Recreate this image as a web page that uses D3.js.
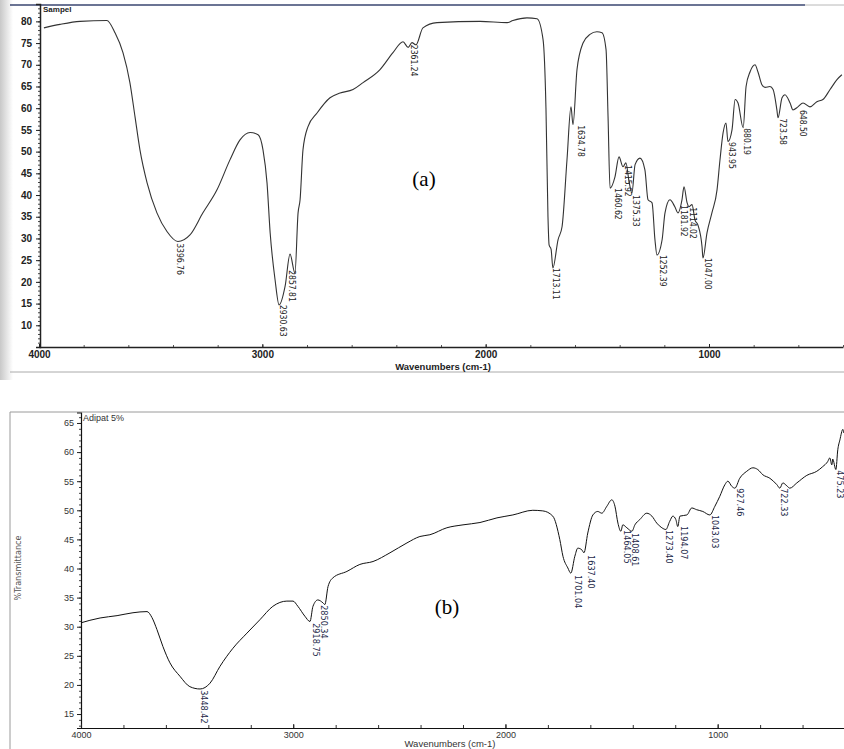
<!DOCTYPE html>
<html><head><meta charset="utf-8">
<script src="https://cdn.jsdelivr.net/npm/d3@7/dist/d3.min.js"></script>
<style>
html,body{margin:0;padding:0;background:#fff;}
svg{display:block;}
</style></head>
<body>
<svg id="chart" width="844" height="749"></svg>
<script>
// ---------- Data: spectrum (a) "Sampel" ----------
const wnA = [3978,3906,3816,3696,3660,3624,3593,3570,3548,3516,3472,3427,3378,3324,3266,3203,3145,3100,3055,3019,2997,2979,2965,2943,2925,2898,2876,2854,2840,2831,2818,2796,2755,2697,2652,2594,2549,2473,2415,2370,2347,2330,2312,2281,2218,2025,1904,1878,1815,1770,1743,1730,1721,1716,1707,1699,1676,1658,1636,1618,1609,1591,1564,1533,1502,1479,1461,1452,1443,1421,1403,1385,1372,1358,1345,1331,1309,1287,1273,1255,1242,1233,1210,1197,1175,1153,1139,1121,1112,1098,1090,1076,1063,1049,1031,1027,1009,987,964,951,937,924,915,897,883,870,847,834,816,794,781,763,749,727,713,696,691,673,660,637,624,602,579,548,517,490,458,427,405];
const tA  = [78.5,79.3,80.0,80.2,77.4,72.8,65.9,58.0,50.4,42.8,35.9,31.6,29.3,30.8,35.9,41.2,48.1,52.7,54.4,53.9,50.4,42.8,31.3,20.5,14.7,19.0,26.4,22.0,35.9,38.9,50.4,55.7,58.9,62.4,63.5,64.3,65.9,68.9,72.8,75.3,74.0,75.1,74.6,78.5,79.7,80.0,79.7,80.2,80.8,80.6,75.8,60.0,35.0,28.5,27.5,23.2,29.7,32.7,48.0,60.3,56.2,68.9,75.0,77.0,77.6,77.4,73.5,58.0,41.6,44.2,48.8,46.5,47.4,43.1,40.5,47.0,48.5,45.8,38.9,38.2,29.7,26.2,29.7,35.9,38.9,37.3,35.9,38.9,41.9,38.2,37.3,37.8,34.3,33.0,28.0,25.5,31.3,35.9,41.2,48.0,54.3,56.6,52.3,55.0,62.0,61.2,55.5,65.0,68.4,70.0,68.4,65.4,64.8,65.0,64.3,59.6,57.8,62.4,63.1,61.2,59.6,60.3,61.2,60.3,61.5,62.0,64.3,66.6,67.7];
const peakTextA = ["3396.76","2930.63","2857.81","2361.24","1713.11","1634.78","1460.62","1415.92","1375.33","1252.39","1181.92","1114.02","1047.00","943.95","880.19","723.58","648.50"];
const peakWnA   = [3369,2907,2867,2321,1685,1573,1407,1363,1327,1206,1112,1072,1006,897,830,669,579];
const peakTA    = [28.9,14.7,22.7,74.6,23.2,56.1,41.6,46.9,40.0,26.2,37.7,37.2,25.5,52.2,55.4,57.7,59.6];

// ---------- Data: spectrum (b) "Adipat 5%" ----------
const wnB = [3997,3958,3910,3830,3755,3689,3666,3642,3614,3581,3534,3487,3439,3392,3345,3284,3218,3157,3096,3030,3001,2978,2945,2921,2907,2884,2860,2851,2836,2813,2747,2686,2624,2544,2464,2403,2356,2276,2200,2120,2040,1965,1871,1824,1777,1744,1729,1706,1692,1673,1659,1640,1630,1612,1588,1565,1546,1522,1499,1484,1470,1456,1447,1428,1404,1390,1367,1334,1310,1287,1263,1244,1226,1211,1197,1188,1178,1145,1122,1099,1070,1037,1013,990,966,952,933,919,896,863,834,811,787,754,721,707,693,674,660,627,580,533,505,481,472,462,458,443,434,424,410,406];
const tB  = [30.7,31.1,31.5,31.9,32.4,32.6,31.6,29.5,26.6,23.8,21.5,19.7,19.3,20.3,23.2,26.3,28.9,31.2,33.5,34.4,34.4,33.5,31.8,30.9,33.5,34.6,34.1,33.8,36.9,38.4,39.5,40.7,41.2,42.7,44.4,45.5,45.8,47.0,47.5,47.9,48.7,49.2,50.0,49.9,49.0,45.0,42.1,40.1,39.2,42.1,43.5,43.2,42.7,46.1,49.2,49.8,49.5,50.7,51.8,50.7,47.8,46.4,47.5,47.0,46.4,47.5,48.4,49.5,49.0,47.8,47.0,46.7,48.1,49.0,48.4,47.2,49.0,49.2,50.4,50.1,49.8,49.2,50.7,52.4,54.4,55.0,54.1,53.8,55.5,56.7,57.3,57.0,56.1,55.5,54.4,53.8,54.7,54.2,53.8,54.7,56.0,56.7,57.5,58.4,59.0,57.8,58.8,57.0,60.4,62.1,63.9,63.3];
const peakTextB = ["3448.42","2918.75","2850.34","1701.04","1637.40","1464.05","1408.61","1273.40","1194.07","1043.03","927.46","722.33","475.23"];
const peakWnB   = [3421,2893,2855,1659,1598,1428,1390,1230,1159,1013,896,688,424];
const peakTB    = [19.1,30.6,33.7,38.9,42.3,46.6,46.1,46.6,47.3,49.2,53.8,53.8,56.9];

// ---------- Tick values ----------
const xTickLabels = [4000,3000,2000,1000];
const xMinorTicks = d3.range(4000, 399, -200);
const yTicksA = d3.range(10, 81, 5);
const yMinorA = d3.range(6, 84, 1);
const yTicksB = d3.range(15, 66, 5);
const yMinorB = d3.range(13, 67, 1);

const fmt = d3.format("d");
const svg = d3.select("#chart");

// ---------- Background decoration (scan of panel a) ----------
const defs = svg.append("defs");
const grad = defs.append("linearGradient").attr("id","shade").attr("x1","0").attr("x2","1");
grad.append("stop").attr("offset","0").attr("stop-color","#c8c8c8");
grad.append("stop").attr("offset","1").attr("stop-color","#ffffff");
svg.append("rect").attr("x",0).attr("y",0).attr("width",13).attr("height",380).attr("fill","url(#shade)");
svg.append("line").attr("x1",10).attr("x2",805).attr("y1",5).attr("y2",5).attr("stroke","#3a4670").attr("stroke-width",1.5);
svg.append("line").attr("x1",805).attr("x2",844).attr("y1",5).attr("y2",5).attr("stroke","#b8b8b8").attr("stroke-width",1);
svg.append("line").attr("x1",10).attr("x2",844).attr("y1",372).attr("y2",372).attr("stroke","#aaaaaa").attr("stroke-width",1);

// Panel b frame
svg.append("line").attr("x1",10).attr("x2",844).attr("y1",412).attr("y2",412).attr("stroke","#9a9a9a");
svg.append("line").attr("x1",10).attr("x2",10).attr("y1",412).attr("y2",749).attr("stroke","#9a9a9a");

// ---------- Panel A ----------
const xA = d3.scaleLinear().domain([4000,400]).range([39,843]);
const yA = d3.scaleLinear().domain([5,84]).range([347,4]);

const gA = svg.append("g");
gA.append("g").attr("transform","translate(40,0)")
  .call(d3.axisLeft(yA).tickValues(yMinorA).tickSize(2).tickFormat(""))
  .call(g=>g.select(".domain").remove())
  .selectAll("line").attr("stroke","#444");
gA.append("g").attr("transform","translate(40,0)")
  .call(d3.axisLeft(yA).tickValues(yTicksA).tickSize(4).tickPadding(4).tickFormat(fmt))
  .call(g=>g.select(".domain").attr("stroke","#222").attr("stroke-width",1.5))
  .call(g=>g.selectAll("text").attr("font-family","Liberation Sans, Arial, sans-serif").attr("font-weight","bold").attr("font-size",10).attr("fill","#222"))
  .selectAll("line").attr("stroke","#222");
gA.append("g").attr("transform","translate(0,347)")
  .call(d3.axisBottom(xA).tickValues(xMinorTicks).tickSize(-2).tickFormat(""))
  .call(g=>g.select(".domain").remove())
  .selectAll("line").attr("stroke","#555");
gA.append("g").attr("transform","translate(0,347)")
  .call(d3.axisBottom(xA).tickValues(xTickLabels).tickSizeInner(-3).tickSizeOuter(0).tickPadding(4).tickFormat(fmt))
  .call(g=>g.select(".domain").attr("stroke","#222").attr("stroke-width",1.5))
  .call(g=>g.selectAll("text").attr("font-family","Liberation Sans, Arial, sans-serif").attr("font-weight","bold").attr("font-size",10).attr("fill","#222"))
  .selectAll("line").attr("stroke","#222");
gA.append("text").attr("x",443).attr("y",369.5).attr("text-anchor","middle")
  .attr("font-family","Liberation Sans, Arial, sans-serif").attr("font-weight","bold").attr("font-size",9.5).attr("fill","#222")
  .text("Wavenumbers (cm-1)");
gA.append("text").attr("x",43).attr("y",12)
  .attr("font-family","Liberation Sans, Arial, sans-serif").attr("font-weight","bold").attr("font-size",8).attr("fill","#222")
  .text("Sampel");

const lineA = d3.line().curve(d3.curveMonotoneX).x((d,i)=>xA(wnA[i])).y((d,i)=>yA(tA[i]));
gA.append("path").datum(tA).attr("d",lineA).attr("fill","none").attr("stroke","#333").attr("stroke-width",1.1);

gA.selectAll("text.pk").data(peakTextA).enter().append("text").attr("class","pk")
  .attr("transform",(d,i)=>`translate(${xA(peakWnA[i])},${yA(peakTA[i])}) rotate(90)`)
  .attr("dy","0.35em")
  .attr("font-family","Liberation Sans Narrow, DejaVu Sans Condensed, Arial Narrow, sans-serif")
  .attr("font-size",8.5).attr("fill","#222").text(d=>d);

gA.append("text").attr("x",424).attr("y",186).attr("text-anchor","middle")
  .attr("font-family","Liberation Serif, Times New Roman, serif").attr("font-size",21).attr("fill","#000").text("(a)");

// ---------- Panel B ----------
const xB = d3.scaleLinear().domain([4000,400]).range([81,845]);
const yB = d3.scaleLinear().domain([12.6,66.8]).range([728,412.5]);
const gB = svg.append("g");
gB.append("g").attr("transform","translate(81,0)")
  .call(d3.axisLeft(yB).tickValues(yMinorB).tickSize(2).tickFormat(""))
  .call(g=>g.select(".domain").remove())
  .selectAll("line").attr("stroke","#444");
gB.append("g").attr("transform","translate(81,0)")
  .call(d3.axisLeft(yB).tickValues(yTicksB).tickSize(4).tickPadding(3).tickFormat(fmt))
  .call(g=>g.select(".domain").attr("stroke","#111").attr("stroke-width",1.2))
  .call(g=>g.selectAll("text").attr("font-family","Liberation Sans, Arial, sans-serif").attr("font-size",9).attr("fill","#333"))
  .selectAll("line").attr("stroke","#222");
gB.append("g").attr("transform","translate(0,728)")
  .call(d3.axisBottom(xB).tickValues(xMinorTicks).tickSize(-3).tickFormat(""))
  .call(g=>g.select(".domain").remove())
  .selectAll("line").attr("stroke","#333");
gB.append("g").attr("transform","translate(0,728)")
  .call(d3.axisBottom(xB).tickValues(xTickLabels).tickSizeInner(-4).tickSizeOuter(0).tickPadding(4).tickFormat(fmt))
  .call(g=>g.select(".domain").attr("stroke","#111").attr("stroke-width",1.2))
  .call(g=>g.selectAll("text").attr("font-family","Liberation Sans, Arial, sans-serif").attr("font-size",9).attr("fill","#333"))
  .selectAll("line").attr("stroke","#222");
gB.append("text").attr("x",450).attr("y",746.5).attr("text-anchor","middle")
  .attr("font-family","Liberation Sans, Arial, sans-serif").attr("font-size",9.5).attr("fill","#333")
  .text("Wavenumbers (cm-1)");
gB.append("text").attr("transform","translate(21,568) rotate(-90)").attr("text-anchor","middle")
  .attr("font-family","Liberation Sans Narrow, DejaVu Sans Condensed, Arial Narrow, sans-serif").attr("font-size",9).attr("fill","#555")
  .text("%Transmittance");
gB.append("text").attr("x",83).attr("y",421)
  .attr("font-family","Liberation Sans, Arial, sans-serif").attr("font-size",9).attr("fill","#333")
  .text("Adipat 5%");

const lineB = d3.line().curve(d3.curveMonotoneX).x((d,i)=>xB(wnB[i])).y((d,i)=>yB(tB[i]));
gB.append("path").datum(tB).attr("d",lineB).attr("fill","none").attr("stroke","#111").attr("stroke-width",1);

gB.selectAll("text.pk").data(peakTextB).enter().append("text").attr("class","pk")
  .attr("transform",(d,i)=>`translate(${xB(peakWnB[i])},${yB(peakTB[i])}) rotate(90)`)
  .attr("dy","0.35em")
  .attr("font-family","Liberation Sans Narrow, DejaVu Sans Condensed, Arial Narrow, sans-serif")
  .attr("font-size",9).attr("fill","#1e2a4a").text(d=>d);

gB.append("text").attr("x",447).attr("y",614).attr("text-anchor","middle")
  .attr("font-family","Liberation Serif, Times New Roman, serif").attr("font-size",21).attr("fill","#000").text("(b)");
</script>
</body></html>
